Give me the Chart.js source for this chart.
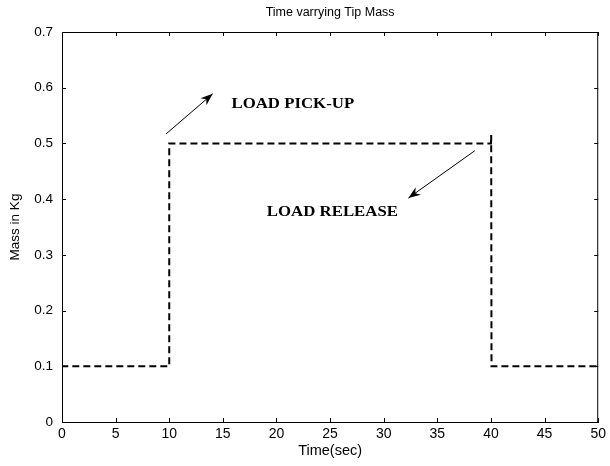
<!DOCTYPE html>
<html>
<head>
<meta charset="utf-8">
<script src="https://cdn.jsdelivr.net/npm/chart.js@4/dist/chart.umd.min.js"></script>
<style>
html,body{margin:0;padding:0;background:#fff;}
#wrap{width:610px;height:466px;}
</style>
</head>
<body>
<div id="wrap"><canvas id="c" width="610" height="466"></canvas></div>
<script>
// ---- data ----
const timeSec = [0, 0, 10, 10, 40, 40.02, 40.05, 50];
const massKg  = [0, 0.1, 0.1, 0.5, 0.5, 0.515, 0.1, 0.1];
const xTicks = [0, 5, 10, 15, 20, 25, 30, 35, 40, 45, 50];
const yTicks = [0, 0.1, 0.2, 0.3, 0.4, 0.5, 0.6, 0.7];
const titleText = 'Time varrying Tip Mass';
const xTitle = 'Time(sec)';
const yTitle = 'Mass in Kg';
// annotations in data units: label text and arrows [x, y]
const noteLabels = ['LOAD PICK-UP', 'LOAD RELEASE'];
const noteLabelX = [15.8, 19.1];
const noteLabelY = [0.570, 0.377];
const arrowTail = [[9.7, 0.517], [38.5, 0.487]];
const arrowHead = [[14.05, 0.589], [32.3, 0.402]];

const points = timeSec.map((t, i) => ({x: t, y: massKg[i]}));
const sans = '"Liberation Sans", Arial, sans-serif';

const framePlugin = {
  id: 'frame',
  afterDraw(chart) {
    const ctx = chart.ctx;
    const a = chart.chartArea;
    const xs = chart.scales.x, ys = chart.scales.y;
    ctx.save();
    // title centred over plot area
    ctx.fillStyle = '#000';
    ctx.font = '12.5px ' + sans;
    ctx.textAlign = 'center';
    ctx.textBaseline = 'middle';
    ctx.fillText(titleText, (a.left + a.right) / 2, a.top - 19);

    ctx.strokeStyle = '#000';
    ctx.lineWidth = 1;
    ctx.strokeRect(a.left + 0.5, a.top + 0.5, a.right - a.left - 1, a.bottom - a.top);
    const L = 4;
    ctx.beginPath();
    xTicks.forEach(v => {
      const p = Math.round(xs.getPixelForValue(v)) + 0.5;
      ctx.moveTo(p, a.bottom); ctx.lineTo(p, a.bottom - L);
      ctx.moveTo(p, a.top); ctx.lineTo(p, a.top + L);
    });
    yTicks.forEach(v => {
      const p = Math.round(ys.getPixelForValue(v)) + 0.5;
      ctx.moveTo(a.left, p); ctx.lineTo(a.left + L, p);
      ctx.moveTo(a.right, p); ctx.lineTo(a.right - L, p);
    });
    ctx.stroke();

    // arrows
    arrowTail.forEach((t, i) => {
      const x1 = xs.getPixelForValue(t[0]), y1 = ys.getPixelForValue(t[1]);
      const x2 = xs.getPixelForValue(arrowHead[i][0]), y2 = ys.getPixelForValue(arrowHead[i][1]);
      const ang = Math.atan2(y2 - y1, x2 - x1);
      ctx.beginPath();
      ctx.moveTo(x1, y1); ctx.lineTo(x2, y2); ctx.stroke();
      const hl = 13, hw = 0.36;
      ctx.beginPath();
      ctx.moveTo(x2, y2);
      ctx.lineTo(x2 - hl * Math.cos(ang - hw), y2 - hl * Math.sin(ang - hw));
      ctx.lineTo(x2 - hl * 0.65 * Math.cos(ang), y2 - hl * 0.65 * Math.sin(ang));
      ctx.lineTo(x2 - hl * Math.cos(ang + hw), y2 - hl * Math.sin(ang + hw));
      ctx.closePath();
      ctx.fill();
    });

    // labels
    ctx.font = 'bold 15px "Liberation Serif", "Times New Roman", serif';
    ctx.textBaseline = 'middle';
    ctx.textAlign = 'left';
    noteLabels.forEach((s, i) => {
      const x = xs.getPixelForValue(noteLabelX[i]), y = ys.getPixelForValue(noteLabelY[i]);
      ctx.save();
      ctx.translate(x, y);
      ctx.scale(1.12, 1);
      ctx.fillText(s, 0, 0);
      ctx.restore();
    });
    ctx.restore();
  }
};

new Chart(document.getElementById('c'), {
  type: 'scatter',
  data: {
    datasets: [{
      data: points,
      showLine: true,
      borderColor: '#000',
      borderWidth: 2,
      borderDash: [7, 4],
      pointRadius: 0,
      tension: 0,
      fill: false
    }]
  },
  options: {
    responsive: false,
    animation: false,
    devicePixelRatio: 1,
    layout: {padding: {left: 0, right: 10, top: 32, bottom: 0}},
    plugins: {
      legend: {display: false},
      tooltip: {enabled: false},
      title: {display: false}
    },
    scales: {
      x: {
        type: 'linear',
        min: 0, max: 50,
        afterBuildTicks: s => { s.ticks = xTicks.map(v => ({value: v})); },
        afterFit: s => { s.height = 44; },
        grid: {display: false, drawTicks: false},
        border: {display: true, color: '#000', width: 1},
        ticks: {color: '#000', padding: 4, maxRotation: 0,
          font: {family: sans, size: 14}},
        title: {display: true, text: xTitle, color: '#000', padding: {top: 0, bottom: 6},
          font: {family: sans, size: 14.5}}
      },
      y: {
        type: 'linear',
        min: 0, max: 0.7,
        afterBuildTicks: s => { s.ticks = yTicks.map(v => ({value: v})); },
        afterFit: s => { s.width = 62; },
        grid: {display: false, drawTicks: false},
        border: {display: true, color: '#000', width: 1},
        ticks: {color: '#000', padding: 9,
          callback: v => String(v),
          font: {family: sans, size: 13.5}},
        title: {display: true, text: yTitle, color: '#000', padding: {top: 7, bottom: 0},
          font: {family: sans, size: 13.5}}
      }
    }
  },
  plugins: [framePlugin]
});
</script>
</body>
</html>
